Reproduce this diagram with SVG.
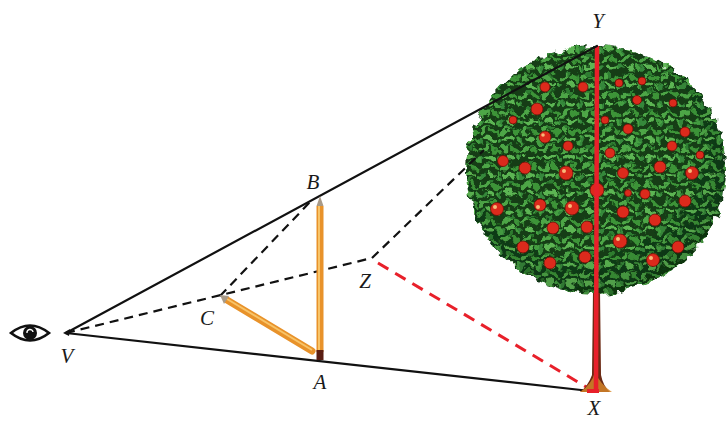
<svg xmlns="http://www.w3.org/2000/svg" width="728" height="421" viewBox="0 0 728 421">
  <style>
    .lbl { font-family: "Liberation Serif", "DejaVu Serif", serif; font-style: italic; font-size: 21px; fill: #1a1a1a; text-anchor: middle; }
    .solid { stroke: #111; stroke-width: 2.2; fill: none; stroke-linecap: round; }
    .dash { stroke: #111; stroke-width: 2.2; fill: none; stroke-dasharray: 9 6; }
    .rdash { stroke: #e8202a; stroke-width: 3; fill: none; stroke-dasharray: 12 8; }
    .apple { fill: #dc2a1c; stroke: #6a0c06; stroke-width: 0.8; }
    .shine { fill: #f8b878; }
  </style>
  <defs>
    <pattern id="leaves" width="20" height="18" patternUnits="userSpaceOnUse">
      <rect width="20" height="18" fill="#123e14"/>
      <ellipse cx="5" cy="5" rx="5" ry="2.4" fill="#4da646" transform="rotate(-35 5 5)"/>
      <ellipse cx="15" cy="6" rx="5" ry="2.2" fill="#3c9438" transform="rotate(30 15 6)"/>
      <ellipse cx="10" cy="13" rx="5.2" ry="2.4" fill="#5cb552" transform="rotate(10 10 13)"/>
      <ellipse cx="1" cy="15" rx="4" ry="2" fill="#36883a" transform="rotate(-60 1 15)"/>
      <ellipse cx="19" cy="15" rx="4" ry="2" fill="#45a042" transform="rotate(60 19 15)"/>
      <ellipse cx="10" cy="1" rx="3.5" ry="1.8" fill="#2f7e30" transform="rotate(-10 10 1)"/>
    </pattern>
    <filter id="rough" x="-10%" y="-10%" width="120%" height="120%">
      <feTurbulence type="fractalNoise" baseFrequency="0.12" numOctaves="2" seed="4" result="n"/>
      <feDisplacementMap in="SourceGraphic" in2="n" scale="12" xChannelSelector="R" yChannelSelector="G"/>
    </filter>
    <radialGradient id="shade" cx="0.45" cy="0.4" r="0.6">
      <stop offset="0.7" stop-color="#000" stop-opacity="0"/>
      <stop offset="1" stop-color="#000" stop-opacity="0.15"/>
    </radialGradient>
  </defs>

  <rect width="728" height="421" fill="#ffffff"/>

  <!-- lines of sight -->
  <g id="connectors">
    <line class="solid" x1="66" y1="333" x2="590" y2="391"/>
    <line class="dash" x1="66" y1="333" x2="372" y2="258"/>
    <line class="dash" x1="220" y1="296" x2="312" y2="200"/>
    <line class="rdash" x1="378" y1="263" x2="588" y2="388"/>
  </g>

  <!-- tree -->
  <g id="tree">
    <path d="M593 290 L592 375 Q588 386 580 392 L610 392 Q603 386 601 375 L600 290 Z" fill="#6b2a14"/>
    <path d="M580 392 Q592 384 595 372 Q600 384 612 392 Z" fill="#d98a2a" opacity="0.8"/>
    <path d="M598 290 L585 250 M598 285 L615 240" stroke="#5a3012" stroke-width="3" fill="none"/>
    <g filter="url(#rough)">
      <ellipse cx="596" cy="170" rx="130" ry="124" fill="url(#leaves)"/>
      <ellipse cx="596" cy="170" rx="130" ry="124" fill="url(#shade)"/>
    </g>
    <g id="apples">
      <circle class="apple" cx="545" cy="87" r="5"/>
      <circle class="apple" cx="583" cy="87" r="5"/>
      <circle class="apple" cx="619" cy="83" r="4"/>
      <circle class="apple" cx="642" cy="81" r="4"/>
      <circle class="apple" cx="537" cy="109" r="6"/>
      <circle class="apple" cx="513" cy="120" r="4"/>
      <circle class="apple" cx="637" cy="100" r="4.5"/>
      <circle class="apple" cx="673" cy="103" r="4"/>
      <circle class="apple" cx="605" cy="120" r="4"/>
      <circle class="apple" cx="628" cy="129" r="5"/>
      <circle class="apple" cx="685" cy="132" r="5"/>
      <circle class="apple" cx="545" cy="137" r="6"/>
      <circle class="apple" cx="568" cy="146" r="5"/>
      <circle class="apple" cx="610" cy="153" r="5"/>
      <circle class="apple" cx="672" cy="146" r="5"/>
      <circle class="apple" cx="700" cy="155" r="4"/>
      <circle class="apple" cx="503" cy="161" r="5.5"/>
      <circle class="apple" cx="525" cy="168" r="6"/>
      <circle class="apple" cx="566" cy="173" r="7"/>
      <circle class="apple" cx="623" cy="173" r="5.5"/>
      <circle class="apple" cx="660" cy="167" r="6"/>
      <circle class="apple" cx="692" cy="173" r="6.5"/>
      <circle class="apple" cx="597" cy="190" r="7"/>
      <circle class="apple" cx="645" cy="194" r="5"/>
      <circle class="apple" cx="628" cy="193" r="3.5"/>
      <circle class="apple" cx="497" cy="209" r="6.5"/>
      <circle class="apple" cx="540" cy="205" r="6"/>
      <circle class="apple" cx="572" cy="208" r="7"/>
      <circle class="apple" cx="623" cy="212" r="6"/>
      <circle class="apple" cx="685" cy="201" r="6"/>
      <circle class="apple" cx="655" cy="220" r="6"/>
      <circle class="apple" cx="553" cy="228" r="6"/>
      <circle class="apple" cx="587" cy="227" r="6"/>
      <circle class="apple" cx="523" cy="247" r="6"/>
      <circle class="apple" cx="620" cy="241" r="7"/>
      <circle class="apple" cx="678" cy="247" r="6"/>
      <circle class="apple" cx="585" cy="257" r="6"/>
      <circle class="apple" cx="550" cy="263" r="6"/>
      <circle class="apple" cx="653" cy="260" r="6.5"/>
      <circle class="shine" cx="538" cy="207" r="2"/>
      <circle class="shine" cx="570" cy="206" r="2"/>
      <circle class="shine" cx="564" cy="171" r="2"/>
      <circle class="shine" cx="690" cy="171" r="2"/>
      <circle class="shine" cx="618" cy="239" r="2"/>
      <circle class="shine" cx="651" cy="258" r="2"/>
      <circle class="shine" cx="543" cy="135" r="1.8"/>
      <circle class="shine" cx="495" cy="207" r="2"/>
    </g>
    <!-- height XY -->
    <line x1="597" y1="46" x2="596" y2="390" stroke="#e8202a" stroke-width="4.5"/>
    <path d="M587 391 L599 391" stroke="#e8202a" stroke-width="4"/>
  </g>

  <!-- lines of sight drawn over the canopy edge -->
  <g id="sightlines-front">
    <line class="dash" x1="372" y1="258" x2="484" y2="150"/>
    <line class="solid" x1="66" y1="333" x2="597" y2="46"/>
  </g>

  <!-- pencils -->
  <g id="pencil-AB">
    <line x1="320" y1="206" x2="320" y2="352" stroke="#e8922a" stroke-width="7"/>
    <line x1="319" y1="206" x2="319" y2="352" stroke="#f8c468" stroke-width="2"/>
    <path d="M316.5 206 L320 196 L323.5 206 Z" fill="#a89a88"/>
    <rect x="316.5" y="350" width="7" height="10" fill="#5a1d12"/>
  </g>
  <g id="pencil-AC">
    <line x1="227" y1="300" x2="312" y2="351" stroke="#e8922a" stroke-width="7" stroke-linecap="round"/>
    <line x1="227" y1="299" x2="312" y2="350" stroke="#f8c468" stroke-width="2"/>
    <path d="M220 295 L229 296 L224 304 Z" fill="#a89a88"/>
  </g>

  <!-- eye -->
  <g id="eye">
    <path d="M11 333 Q30 318 49 333 Q30 348 11 333 Z" fill="#fff" stroke="#111" stroke-width="2.6"/>
    <circle cx="30" cy="333" r="7" fill="#111"/>
    <path d="M27 333 A3 3 0 1 1 33 332" stroke="#fff" stroke-width="1.4" fill="none"/>
    <circle cx="30" cy="333" r="2" fill="#111"/>
  </g>
  <g id="point-V"><path d="M63 333 L70 329 L69 336 Z" fill="#111"/></g>

  <!-- labels -->
  <g id="labels">
    <text class="lbl" x="67" y="363">V</text>
    <text class="lbl" x="207" y="325">C</text>
    <text class="lbl" x="313" y="189">B</text>
    <text class="lbl" x="320" y="389">A</text>
    <text class="lbl" x="365" y="288">Z</text>
    <text class="lbl" x="598" y="28">Y</text>
    <text class="lbl" x="594" y="415">X</text>
  </g>
</svg>
